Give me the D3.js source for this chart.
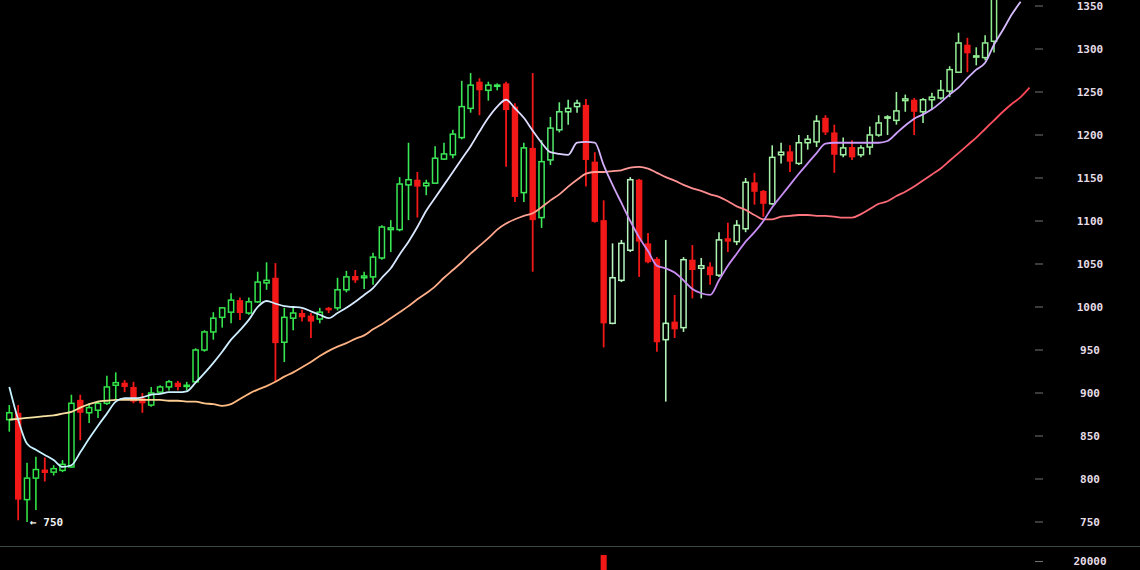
<!DOCTYPE html>
<html><head><meta charset="utf-8">
<script src="https://cdn.jsdelivr.net/npm/d3@7/dist/d3.min.js"></script>
<style>html,body{margin:0;padding:0;background:#000;overflow:hidden}</style>
</head><body><svg id="c" width="1140" height="570"></svg>
<script>
// ---- data (price per candle) ----
const opens  = [869,877,776,801,811,808,810,814,892,877,880,888,909,912,907,894,886,901,907,912,908,913,950,971,988,994,1008,993,1006,1028,1034,959,987,993,990,986,999,999,1020,1036,1034,1035,1057,1090,1090,1142,1148,1141,1144,1172,1177,1197,1231,1262,1252,1257,1260,1233,1133,1185,1104,1171,1206,1227,1233,1235,1169,1101,981,1031,1066,1148,1074,1056,962,983,976,1055,1045,1047,1037,1080,1076,1091,1145,1135,1120,1177,1181,1167,1191,1192,1220,1203,1177,1186,1177,1186,1200,1220,1217,1240,1241,1227,1241,1243,1251,1273,1305,1291,1290,1309];
const highs  = [886,886,819,826,825,816,822,898,898,888,891,920,924,915,913,900,907,909,915,914,913,952,973,994,1000,1016,1011,1011,1041,1052,1051,999,999,997,993,999,1000,1034,1042,1043,1041,1063,1095,1101,1151,1191,1157,1148,1187,1191,1206,1263,1272,1266,1262,1260,1262,1237,1191,1272,1194,1221,1238,1241,1241,1242,1180,1124,1074,1078,1151,1149,1086,1058,1078,1014,1058,1072,1057,1052,1087,1098,1101,1150,1156,1136,1188,1191,1188,1200,1200,1223,1223,1212,1197,1194,1188,1210,1223,1223,1250,1247,1243,1243,1249,1264,1280,1319,1313,1302,1316,1368];
const lows   = [855,752,750,764,797,804,808,813,845,865,871,886,892,901,888,877,884,900,903,903,903,912,948,962,976,981,985,991,1005,1020,913,936,973,983,964,981,993,996,1017,1028,1021,1026,1055,1064,1088,1101,1104,1130,1143,1171,1173,1195,1226,1223,1240,1252,1163,1122,1122,1041,1092,1165,1203,1212,1226,1140,1098,953,980,1029,1064,1035,1051,948,890,964,971,1010,1010,1026,1035,1064,1072,1087,1119,1105,1119,1167,1157,1165,1183,1186,1200,1156,1174,1171,1174,1177,1198,1200,1212,1227,1200,1214,1229,1241,1244,1272,1273,1281,1287,1296];
const closes = [877,776,801,811,807,812,817,888,877,883,888,907,912,907,890,888,900,907,913,907,909,950,971,987,999,1008,993,1006,1029,1031,958,988,993,988,983,994,997,1020,1035,1031,1036,1058,1093,1092,1143,1148,1140,1144,1173,1178,1201,1233,1258,1252,1258,1258,1229,1128,1185,1101,1169,1208,1227,1231,1237,1171,1099,981,1034,1074,1148,1076,1052,959,981,974,1055,1043,1048,1037,1078,1076,1095,1145,1134,1120,1174,1180,1169,1191,1195,1216,1203,1177,1185,1174,1185,1200,1214,1221,1228,1242,1227,1241,1244,1252,1276,1307,1295,1292,1307,1360];
// moving averages (per candle index)
const maShort = [907,869,841,834,828,822,814,816,831,847,862,876,890,894,894,895,898,899,901,901,902,912,923,935,948,962,973,985,1000,1007,1004,1001,1000,999,995,991,987,993,999,1006,1014,1022,1034,1045,1061,1076,1093,1112,1127,1142,1157,1172,1187,1204,1220,1233,1241,1231,1220,1205,1191,1180,1178,1177,1191,1192,1191,1165,1142,1121,1100,1081,1065,1048,1045,1040,1031,1021,1016,1014,1031,1048,1062,1076,1087,1100,1116,1129,1142,1155,1167,1179,1190,1191,1191,1191,1191,1191,1191,1193,1202,1211,1219,1224,1230,1238,1247,1255,1266,1276,1284,1305,1322,1340,1355];
const maLong  = [869,870,871,872,873,874,876,878,883,887,890,891,892,892,892,892,892,892,891,891,890,890,888,887,885,887,893,899,904,908,913,919,924,930,936,943,949,954,958,963,967,974,980,987,994,1001,1009,1016,1024,1034,1043,1052,1062,1071,1080,1090,1097,1102,1106,1109,1116,1124,1131,1140,1148,1155,1157,1157,1158,1159,1162,1163,1161,1156,1151,1147,1142,1138,1135,1131,1128,1123,1117,1113,1107,1102,1102,1105,1106,1107,1107,1106,1106,1105,1104,1104,1108,1114,1120,1123,1129,1134,1140,1147,1154,1161,1170,1179,1188,1197,1207,1217,1227,1236,1244,1255];
const yTicks = [750,800,850,900,950,1000,1050,1100,1150,1200,1250,1300,1350];
const volIndex = [67];
const volValue = [26000];
const volTicks = [20000];
const lowMarkIndex = 2, lowMarkLabel = "\u2190 750";

// ---- scales ----
const svg = d3.select("#c");
svg.append("rect").attr("width",1140).attr("height",570).attr("fill","#000");
const n = opens.length;
const x = d3.scaleLinear().domain([0, n-1]).range([9.3, 994]);
const y = d3.scaleLinear().domain([750, 1350]).range([522, 6]);
const yVol = d3.scaleLinear().domain([0, 30000]).range([583.2, 550.7]);

const defs = svg.append("defs");
defs.append("clipPath").attr("id","clip").append("rect").attr("x",0).attr("y",0).attr("width",1034).attr("height",546);
defs.append("clipPath").attr("id","clipv").append("rect").attr("x",0).attr("y",547).attr("width",1034).attr("height",30);

function grad(id, stops){
  const g = defs.append("linearGradient").attr("id",id).attr("gradientUnits","userSpaceOnUse")
    .attr("x1",0).attr("x2",1030).attr("y1",0).attr("y2",0);
  stops.forEach(s=>g.append("stop").attr("offset",s[0]).attr("stop-color",s[1]));
}
grad("gShort",[[0,"#c4f2ff"],[0.3,"#d2ecff"],[0.47,"#dfe4ff"],[0.55,"#ddd2ff"],[0.62,"#c98cf2"],[0.75,"#c68cf5"],[0.9,"#cfa6ff"],[1,"#d8c0ff"]]);
grad("gLong",[[0,"#f4e8a8"],[0.15,"#fcd49a"],[0.25,"#ffb47a"],[0.42,"#ffae8a"],[0.52,"#ffa090"],[0.62,"#ff9a9a"],[0.75,"#ff7a80"],[0.9,"#ff6070"],[1,"#ff4455"]]);

const greenCol = d3.scaleLinear().domain([0,60,66,84,111])
  .range(["#2fe345","#3ee85a","#b9f5c4","#a8f2aa","#8fec8f"]);
const RED = "#f21818";

// ---- axis ----
const axisG = svg.append("g");
yTicks.forEach(t=>{
  axisG.append("line").attr("x1",1035).attr("x2",1043).attr("y1",y(t)).attr("y2",y(t))
    .attr("stroke","#777").attr("stroke-width",1);
  axisG.append("text").attr("x",1090).attr("y",y(t)).attr("dy","0.35em")
    .attr("text-anchor","middle").attr("fill","#e6dce6")
    .attr("font-family","DejaVu Sans Mono, monospace").attr("font-size",11).attr("font-weight","bold")
    .text(t);
});
// separator
svg.append("line").attr("x1",0).attr("x2",1140).attr("y1",546.5).attr("y2",546.5)
  .attr("stroke","#3a4747").attr("stroke-width",1);
volTicks.forEach(t=>{
  axisG.append("line").attr("x1",1035).attr("x2",1043).attr("y1",yVol(t)).attr("y2",yVol(t))
    .attr("stroke","#777");
  axisG.append("text").attr("x",1090).attr("y",yVol(t)).attr("dy","0.35em")
    .attr("text-anchor","middle").attr("fill","#e6dce6")
    .attr("font-family","DejaVu Sans Mono, monospace").attr("font-size",11).attr("font-weight","bold")
    .text(t);
});

// ---- candles ----
const cg = svg.append("g").attr("clip-path","url(#clip)");
const idx = d3.range(n);
idx.forEach(i=>{
  const o=opens[i], c=closes[i], h=highs[i], l=lows[i];
  const up = c >= o;
  const col = up ? greenCol(i) : RED;
  const cx = x(i);
  const top = y(Math.max(o,c)), bot = y(Math.min(o,c));
  const g = cg.append("g");
  if (up) {
    g.append("line").attr("x1",cx).attr("x2",cx).attr("y1",y(h)).attr("y2",top).attr("stroke",col).attr("stroke-width",1.6);
    g.append("line").attr("x1",cx).attr("x2",cx).attr("y1",bot).attr("y2",y(l)).attr("stroke",col).attr("stroke-width",1.6);
    g.append("rect").attr("x",cx-2.6).attr("y",top).attr("width",5.2).attr("height",Math.max(1.2,bot-top))
      .attr("fill","#000").attr("stroke",col).attr("stroke-width",1.5);
  } else {
    g.append("line").attr("x1",cx).attr("x2",cx).attr("y1",y(h)).attr("y2",y(l)).attr("stroke",col).attr("stroke-width",1.8);
    g.append("rect").attr("x",cx-3.2).attr("y",top).attr("width",6.4).attr("height",Math.max(2.5,bot-top))
      .attr("fill",col);
  }
});

// ---- moving averages ----
const line = d3.line().x((d,i)=>x(i)).y(d=>y(d)).curve(d3.curveMonotoneX);
cg.append("path").datum(maLong).attr("d",line).attr("fill","none")
  .attr("stroke","url(#gLong)").attr("stroke-width",1.8);
cg.append("path").datum(maShort).attr("d",line).attr("fill","none")
  .attr("stroke","url(#gShort)").attr("stroke-width",1.8);

// ---- volume ----
const vg = svg.append("g").attr("clip-path","url(#clipv)");
volIndex.forEach((vi,k)=>{
  vg.append("rect").attr("x",x(vi)-3).attr("y",yVol(volValue[k])).attr("width",6)
    .attr("height",yVol(0)-yVol(volValue[k])).attr("fill",RED);
});

// ---- low annotation ----
svg.append("text").attr("x",x(lowMarkIndex)+3).attr("y",y(lows[lowMarkIndex])).attr("dy","0.35em")
  .attr("fill","#f0f0f0").attr("font-family","DejaVu Sans Mono, monospace").attr("font-size",11)
  .attr("font-weight","bold").text(lowMarkLabel);
</script></body></html>
